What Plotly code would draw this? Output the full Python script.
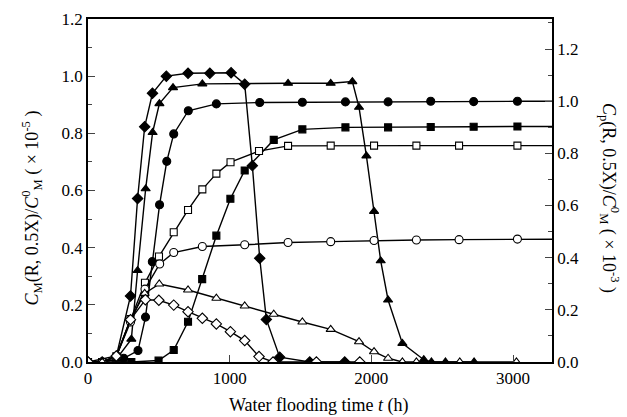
import plotly.graph_objects as go

# Water flooding time (h) and normalised concentrations for each series
t_fd = [0, 100, 200, 300, 350, 400, 455, 553, 706, 860, 1010, 1106, 1160, 1212, 1259, 1353, 1565, 1812]
c_fd = [0, 0, 0.02, 0.231, 0.572, 0.823, 0.94, 1.0, 1.01, 1.01, 1.012, 0.972, 0.687, 0.363, 0.149, 0.017, 0, 0]

t_ft = [0, 100, 200, 306, 350, 407, 456, 504, 600, 807, 1412, 1713, 1866, 1913, 1965, 2019, 2066, 2118, 2219, 2370, 2424, 2523, 2725]
c_ft = [0, 0, 0.01, 0.08, 0.32, 0.606, 0.803, 0.904, 0.96, 0.973, 0.975, 0.975, 0.981, 0.891, 0.721, 0.527, 0.354, 0.217, 0.065, 0.008, 0, 0, 0]

t_fc = [0, 100, 252, 353, 406, 454, 505, 556, 605, 708, 906, 1212, 1513, 1817, 2118, 2419, 2722, 3031, 3400]
c_fc = [0, 0, 0.013, 0.04, 0.157, 0.351, 0.55, 0.702, 0.798, 0.879, 0.903, 0.908, 0.909, 0.91, 0.91, 0.912, 0.911, 0.912, 0.912]

t_fs = [0, 100, 306, 498, 605, 706, 806, 906, 1005, 1106, 1311, 1513, 1817, 2118, 2419, 2722, 3031, 3400]
c_fs = [0, 0, 0, 0.005, 0.042, 0.141, 0.29, 0.442, 0.571, 0.67, 0.777, 0.814, 0.821, 0.821, 0.822, 0.823, 0.824, 0.824]

t_os = [0, 100, 200, 300, 402, 501, 605, 706, 807, 906, 1006, 1207, 1412, 1713, 2019, 2318, 2619, 3031, 3400]
c_os = [0, 0, 0.02, 0.15, 0.277, 0.369, 0.454, 0.532, 0.604, 0.659, 0.699, 0.738, 0.756, 0.757, 0.757, 0.757, 0.757, 0.757, 0.757]

t_oc = [0, 100, 200, 300, 402, 506, 605, 807, 1106, 1412, 1713, 2019, 2318, 2619, 3031, 3400]
c_oc = [0, 0, 0.02, 0.14, 0.255, 0.343, 0.383, 0.404, 0.41, 0.418, 0.421, 0.425, 0.427, 0.428, 0.43, 0.43]

t_ot = [0, 100, 200, 300, 400, 503, 706, 906, 1106, 1311, 1513, 1713, 1913, 2019, 2118, 2219, 2318, 2624, 3024]
c_ot = [0, 0, 0.02, 0.15, 0.24, 0.273, 0.252, 0.223, 0.196, 0.167, 0.14, 0.114, 0.071, 0.036, 0.013, 0, 0, 0, 0]

t_od = [0, 200, 300, 405, 500, 605, 706, 807, 906, 1005, 1106, 1207, 1306, 1612, 1918]
c_od = [0, 0.021, 0.148, 0.218, 0.216, 0.199, 0.176, 0.153, 0.133, 0.106, 0.075, 0.019, 0, 0, 0]

x_ticks = [0, 1000, 2000, 3000]
y_ticks = [0.0, 0.2, 0.4, 0.6, 0.8, 1.0, 1.2]

series = [
    (t_fd, c_fd, "diamond", "black", 8),
    (t_ft, c_ft, "triangle-up", "black", 8),
    (t_fc, c_fc, "circle", "black", 8),
    (t_fs, c_fs, "square", "black", 7),
    (t_os, c_os, "square", "white", 7),
    (t_oc, c_oc, "circle", "white", 8),
    (t_ot, c_ot, "triangle-up", "white", 8),
    (t_od, c_od, "diamond", "white", 8),
]

FONT = "Liberation Serif, Times New Roman, serif"

fig = go.Figure()
for t, c, sym, fill, size in series:
    fig.add_trace(go.Scatter(
        x=t, y=c, mode="lines+markers",
        line=dict(color="black", width=1.4),
        marker=dict(symbol=sym, size=size, color=fill,
                    line=dict(color="black", width=1.1)),
        showlegend=False,
    ))

# empty trace that carries the right-hand axis
fig.add_trace(go.Scatter(x=[None], y=[None], yaxis="y2", showlegend=False))

axis_common = dict(ticks="inside", ticklen=7, tickwidth=1.3, showline=True,
                   linecolor="black", linewidth=1.5, showgrid=False,
                   zeroline=False, automargin=False)
minor_ticks = dict(dtick=0.1, ticks="inside", ticklen=4, tickwidth=1.2,
                   showgrid=False)

fig.update_layout(
    width=627, height=417,
    margin=dict(l=88, r=75, t=19, b=55),
    paper_bgcolor="white", plot_bgcolor="white",
    font=dict(family=FONT, size=17, color="black"),
    xaxis=dict(range=[0, 3275], tickvals=x_ticks, mirror=True, **axis_common),
    yaxis=dict(range=[0, 1.2], tickvals=y_ticks, tickformat=".1f",
               minor=minor_ticks, **axis_common),
    yaxis2=dict(range=[0, 1.315], overlaying="y", side="right",
                tickvals=y_ticks, tickformat=".1f", minor=minor_ticks,
                **axis_common),
    annotations=[
        dict(text="Water flooding time <i>t</i> (h)",
             xref="paper", yref="paper", x=0.497, y=-0.126,
             showarrow=False, xanchor="center", yanchor="middle",
             font=dict(size=18)),
        dict(text="<i>C</i><sub>M</sub>(R, 0.5X)/<i>C</i><sup>0</sup><sub>M</sub> ( × 10<sup>-5</sup> )",
             xref="paper", yref="paper", x=-0.121, y=0.45, textangle=-90,
             showarrow=False, xanchor="center", yanchor="middle",
             font=dict(size=18)),
        dict(text="<i>C</i><sub>p</sub>(R, 0.5X)/<i>C</i><sup>0</sup><sub>M</sub> ( × 10<sup>-3</sup> )",
             xref="paper", yref="paper", x=1.125, y=0.478, textangle=90,
             showarrow=False, xanchor="center", yanchor="middle",
             font=dict(size=18)),
    ],
)

fig.write_html("out.html")
